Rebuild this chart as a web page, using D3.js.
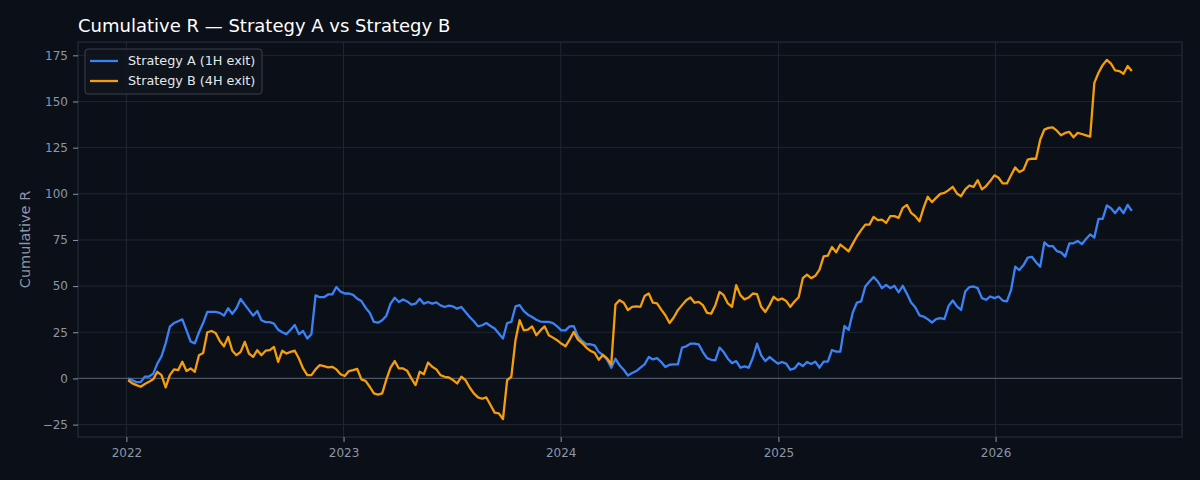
<!DOCTYPE html>
<html>
<head>
<meta charset="utf-8">
<script src="https://cdn.jsdelivr.net/npm/d3@7"></script>
<style>
  html, body { margin: 0; padding: 0; background: #0b0f18; }
  svg { display: block; font-family: "DejaVu Sans", sans-serif; }
</style>
</head>
<body>
<div id="chart"></div>
<script>
// weekly samples starting 2022-01-04
const startDate = new Date(2022, 0, 4);

const seriesA = [
  0, -1, -2, -2, 1, 1, 2.5, 8, 12, 19, 28, 30, 31, 32, 26, 20, 19, 25, 30, 36,
  36, 36, 35.5, 34, 38, 35, 38, 43, 40, 37, 34, 36.5, 31.5, 30.5, 30.5, 29.7, 26.4, 25, 24, 26.4,
  29, 24, 25.7, 21.6, 24, 45, 44, 44, 45.5, 45.5, 49.5, 47, 46, 46,
  45.3, 43.2, 41.9, 38.3, 35.6, 30.6, 30.2, 31.5, 34, 40.5, 43.7, 41.4, 42.8, 41.7, 40, 40.5,
  43.2, 40.5, 41.4, 40.5, 41.2, 39.6, 38.7, 39.4, 39, 37.8, 38.7, 36, 33.3, 31, 28.2, 28.8,
  30, 28.4, 27, 24.3, 21.6, 30, 30.6, 39, 39.7, 36.5, 34.5, 33.3, 31.8, 30.8, 30.6, 30.6,
  30, 28.2, 26, 26, 28.2,
  28.3, 22.8, 20.3, 18.5, 18.5, 17.9, 14.3, 12.7, 10.1, 5.8, 10.7, 7.1, 4.7, 1.6, 2.9, 4,
  5.8, 7.6, 11.6, 10.3, 11, 8.9, 6.2, 7.4, 7.6, 7.6, 16.7, 17.4, 18.8, 18.8, 18.5, 14.3,
  11, 10.1, 9.8, 16.7, 14.3, 10.7, 8.3, 9.4, 5.8, 6.5, 5.8, 11.2, 18.8, 12.5, 9.4, 11.6,
  9.8, 8, 8.9, 8, 4.7,
  5.4, 8.2, 6.7, 8.9, 7.8, 9.1, 5.8, 9.1, 9.1, 15.4, 14.5, 14.5, 28.4, 26.3, 35.7, 41.1,
  41.7, 49.8, 52.5, 54.9, 52.5, 48.9, 50.7, 48.9, 50.2, 46.6, 50.2, 45.8, 41.1, 38.6, 34.2, 33.5,
  32.1, 30.3, 32.1, 32.6, 32.1, 39.3, 42.2, 39, 37.1, 47.1, 49.5, 49.8, 48.9, 43.5, 42.6, 44.4,
  43.5, 44.4, 42.2, 41.7, 47.8,
  60.5, 58.7, 61.4, 65.4, 65.9, 62.9, 60.5, 73.7, 71.7, 71.7, 69, 68.3, 66, 73.2, 73.2, 74.5,
  72.7, 75.5, 78, 76.3, 86.4, 86.4, 93.7, 92.2, 89.5, 92.6, 89.5, 94, 90.8
];

const seriesB = [
  -1, -2.7, -3.6, -4.5, -3, -1.8, -0.5, 3.6, 1.8, -4.9, 1.8, 4.9, 4.5, 9, 4, 5.4, 3.6, 12.6, 13.8, 25,
  25.7, 24.6, 20.3, 17.4, 22.5, 15, 12.6, 14.4, 19.8, 13.5, 11.7, 15.3, 12.6, 15, 15.3, 17, 9, 15, 13.5, 14.4,
  15, 10.8, 5.4, 1.8, 1.8, 4.9, 7.2, 6.7, 6, 6.3, 4.9, 2.3, 1.3, 4,
  4.5, 5.2, -0.5, -1.3, -4.5, -8.1, -8.8, -8.1, -0.5, 5.9, 9.4, 5.4, 5.4, 4.1, 0, -3.6,
  3.6, 2.3, 8.6, 6.3, 4.9, 1.8, 0.9, 0.5, -0.9, -2.7, 0.9, -0.9, -4.9, -8.1, -10.3, -11,
  -10.3, -14.4, -18.5, -18.9, -22, -0.9, 0.9, 20.7, 31.5, 26, 26.4, 28.2, 23.4, 26, 28.2, 23.4,
  22.1, 20.7, 18.9, 17.4, 21,
  25.2, 21, 19.2, 16.7, 14.9, 13.9, 10.1, 12.7, 10.9, 7.6, 40, 42.4, 41, 37, 38.8, 39,
  38.8, 44.6, 46, 41, 40.6, 37.3, 34.2, 30, 33, 37, 39.7, 42.4, 43.8, 41, 41.5, 39.7,
  35.5, 35.1, 39.7, 46.9, 45.1, 40.6, 38.8, 50.5, 45.1, 42.8, 43.8, 46, 45.7, 38.8, 36, 39.7,
  44.2, 42.4, 43.3, 42, 38.8,
  41.7, 44, 54.3, 56.2, 54.3, 55.6, 58.9, 66.1, 66.5, 71.2, 68.3, 72.5, 70.7, 68.8, 73, 77,
  80.3, 83.3, 83.3, 87.5, 85.7, 86, 84.2, 87.9, 87.9, 87, 92.4, 94, 89.7, 87.9, 85.1, 92.4,
  98.4, 95.5, 97.8, 100, 100.5, 102, 103.8, 100.2, 98.7, 102.4, 104.5, 103.8, 107.4, 102.4, 104.2, 106.9,
  110, 108.7, 105.6, 105.6, 110,
  114.3, 111.8, 113, 118.5, 119, 119, 129.3, 134.8, 135.7, 136, 134.2, 131.7, 133, 133.5, 130.6, 133,
  132.4, 131.7, 131, 160.1, 165.6, 169.7, 172.5, 170.5, 166.8, 166.5, 165, 169.2, 166.5
];

const seriesNames = ["Strategy A (1H exit)", "Strategy B (4H exit)"];
const yTicks = [-25, 0, 25, 50, 75, 100, 125, 150, 175];
const xTickYears = [2022, 2023, 2024, 2025, 2026];

const width = 1200,
  height = 480,
  margin = { top: 42, right: 18, bottom: 43, left: 78 },
  colors = ["#3b82f6", "#f59e0b"];

const dates = seriesA.map((_, i) => d3.timeDay.offset(startDate, i * 7));
const data = [seriesA, seriesB].map((vals, k) => ({
  label: seriesNames[k],
  color: colors[k],
  values: vals.map((v, i) => ({ time: dates[i], value: v }))
}));

const innerW = width - margin.left - margin.right,
  innerH = height - margin.top - margin.bottom;

// matplotlib-style 5% padding
const tExt = d3.extent(dates, d => +d);
const tPad = (tExt[1] - tExt[0]) * 0.05;
const all = seriesA.concat(seriesB);
const vExt = d3.extent(all);
const vPad = (vExt[1] - vExt[0]) * 0.05;

const x = d3.scaleTime()
  .domain([new Date(tExt[0] - tPad), new Date(tExt[1] + tPad)])
  .range([0, innerW]);
const y = d3.scaleLinear()
  .domain([vExt[0] - vPad, vExt[1] + vPad])
  .range([innerH, 0]);

const svg = d3.select("#chart").append("svg")
  .attr("width", width)
  .attr("height", height);

svg.append("rect").attr("width", width).attr("height", height).attr("fill", "#0b0f18");

svg.append("text")
  .attr("x", margin.left)
  .attr("y", 32)
  .attr("fill", "#ffffff")
  .style("font-size", "18px")
  .text("Cumulative R \u2014 Strategy A vs Strategy B");

svg.append("text")
  .attr("transform", "translate(" + 30 + "," + (margin.top + innerH / 2) + ") rotate(-90)")
  .attr("text-anchor", "middle")
  .attr("fill", "#8b96a8")
  .style("font-size", "14.5px")
  .text("Cumulative R");

const g = svg.append("g")
  .attr("transform", "translate(" + margin.left + "," + margin.top + ")");

const xTicks = xTickYears.map(yr => new Date(yr, 0, 1));

// grid
g.append("g").selectAll("line.gy")
  .data(yTicks).enter().append("line")
  .attr("x1", 0).attr("x2", innerW)
  .attr("y1", d => y(d)).attr("y2", d => y(d))
  .attr("stroke", "#1f2633").attr("stroke-width", 1);
g.append("g").selectAll("line.gx")
  .data(xTicks).enter().append("line")
  .attr("y1", 0).attr("y2", innerH)
  .attr("x1", d => x(d)).attr("x2", d => x(d))
  .attr("stroke", "#1f2633").attr("stroke-width", 1);

// zero line
g.append("line")
  .attr("x1", 0).attr("x2", innerW)
  .attr("y1", y(0)).attr("y2", y(0))
  .attr("stroke", "#4b5563").attr("stroke-width", 1.3);

const line = d3.line()
  .x(d => x(d.time))
  .y(d => y(d.value));

g.append("g").selectAll("path.data")
  .data(data).enter().append("path")
  .attr("class", "data")
  .attr("d", d => line(d.values))
  .attr("fill", "none")
  .attr("stroke", d => d.color)
  .attr("stroke-width", 2.3)
  .attr("stroke-linejoin", "round");

// spines
g.append("rect")
  .attr("width", innerW).attr("height", innerH)
  .attr("fill", "none").attr("stroke", "#2a3140").attr("stroke-width", 1);

// axes
const xAxis = g.append("g")
  .attr("transform", "translate(0," + innerH + ")")
  .call(d3.axisBottom(x).tickValues(xTicks).tickFormat(d3.timeFormat("%Y")).tickSize(5).tickPadding(6));
const yAxis = g.append("g")
  .call(d3.axisLeft(y).tickValues(yTicks).tickFormat(d => d < 0 ? "\u2212" + Math.abs(d) : d).tickSize(5).tickPadding(5));

[xAxis, yAxis].forEach(a => {
  a.select(".domain").remove();
  a.selectAll(".tick line").attr("stroke", "#8b96a8");
  a.selectAll(".tick text")
    .attr("fill", "#8b96a8")
    .style("font-size", "12px")
    .style("font-family", "DejaVu Sans, sans-serif");
});

// legend
const legend = g.append("g").attr("transform", "translate(7,7)");
legend.append("rect")
  .attr("width", 177).attr("height", 45)
  .attr("rx", 3)
  .attr("fill", "#0f141d").attr("fill-opacity", 0.85)
  .attr("stroke", "#3a404c").attr("stroke-width", 1);

const item = legend.selectAll("g.item")
  .data(data).enter().append("g")
  .attr("transform", (d, i) => "translate(0," + (12 + i * 20) + ")");
item.append("line")
  .attr("x1", 5).attr("x2", 33)
  .attr("stroke", d => d.color).attr("stroke-width", 2.3);
item.append("text")
  .attr("x", 43).attr("dy", "0.35em")
  .attr("fill", "#e5e7eb")
  .style("font-size", "12.8px")
  .text(d => d.label);
</script>
</body>
</html>
